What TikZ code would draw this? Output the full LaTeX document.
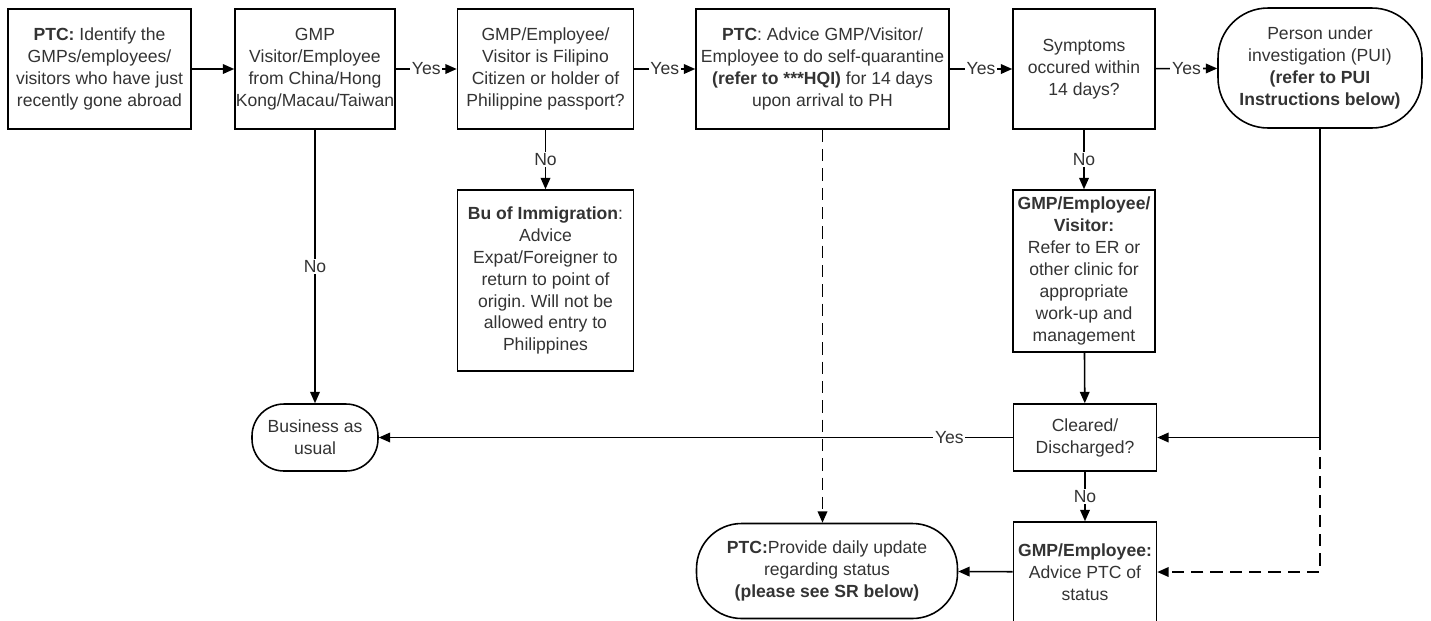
\documentclass[tikz,border=0pt]{standalone}
\usepackage{fontspec}
\setmainfont{Liberation Sans}
\frenchspacing
\usetikzlibrary{arrows.meta}
\tikzset{
  box/.style={draw, line width=0.9pt, align=center, inner sep=0pt, text=black!80,
    font=\fontsize{10}{12.5}\selectfont},
  term/.style={box, rounded corners=1cm},
  arr/.style={-{Triangle[length=6.5pt,width=5.5pt]}, line width=0.9pt},
  dsh/.style={arr, dash pattern=on 7pt off 4pt},
  lbl/.style={fill=white, inner sep=1pt, text=black!80, font=\fontsize{10}{12}\selectfont}
}
\begin{document}
\begin{tikzpicture}[x=0.02cm,y=-0.02cm]
        \useasboundingbox (0,0) rectangle (1431,620);
        % top row
        \node[box, minimum width=3.66cm, minimum height=2.4cm] (ptc) at (99.5,69) {\textbf{PTC:} Identify the\\GMPs/employees/\\visitors who have just\\recently gone abroad};
        \node[box, minimum width=3.2cm, minimum height=2.4cm] (gmp) at (315,69) {GMP\\Visitor/Employee\\from China/Hong\\Kong/Macau/Taiwan};
        \node[box, minimum width=3.52cm, minimum height=2.4cm] (fil) at (545.5,69) {GMP/Employee/\\Visitor is Filipino\\Citizen or holder of\\Philippine passport?};
        \node[box, minimum width=5.06cm, minimum height=2.4cm] (adv) at (822.5,69) {\textbf{PTC}: Advice GMP/Visitor/\\Employee to do self-quarantine\\\textbf{(refer to ***HQI)} for 14 days\\upon arrival to PH};
        \node[box, minimum width=2.84cm, minimum height=2.4cm] (sym) at (1084,69) {Symptoms\\occured within\\14 days?};
        \node[term, minimum width=4.08cm, minimum height=2.4cm] (pui) at (1320,68) {Person under\\investigation (PUI)\\\textbf{(refer to PUI}\\\textbf{Instructions below)}};
        % middle
        \node[box, minimum width=3.52cm, minimum height=3.62cm] (imm) at (545.5,280.5) {\textbf{Bu of Immigration}:\\Advice\\Expat/Foreigner to\\return to point of\\origin. Will not be\\allowed entry to\\Philippines};
        \node[box, minimum width=2.84cm, minimum height=3.24cm] (ref) at (1084,271) {\textbf{GMP/Employee/}\\\textbf{Visitor:}\\Refer to ER or\\other clinic for\\appropriate\\work-up and\\management};
        \node[box, minimum width=2.86cm, minimum height=1.34cm] (clr) at (1085,437.5) {Cleared/\\Discharged?};
        \node[term, rounded corners=0.64cm, minimum width=2.52cm, minimum height=1.34cm] (bau) at (315,437.5) {Business as\\usual};
        % bottom
        \node[term, rounded corners=0.9cm, minimum width=5.22cm, minimum height=1.9cm] (upd) at (827,571) {\textbf{PTC:}Provide daily update\\regarding status\\\textbf{(please see SR below)}};
        \node[box, minimum width=2.86cm, minimum height=2cm] (sta) at (1085,572) {\textbf{GMP/Employee:}\\Advice PTC of\\status};
        \coordinate (bend) at (pui.south |- clr.east);

        \draw[arr] (ptc) -- (gmp);
        \draw[arr] (gmp) -- node[lbl]{Yes} (fil);
        \draw[arr] (fil) -- node[lbl]{Yes} (adv);
        \draw[arr] (adv) -- node[lbl]{Yes} (sym);
        \draw[arr] (sym) -- node[lbl]{Yes} (pui);
        \draw[arr] (gmp) -- node[lbl]{No} (bau);
        \draw[arr] (fil) -- node[lbl]{No} (imm);
        \draw[arr] (sym) -- node[lbl]{No} (ref);
        \draw[arr] (ref) -- (clr);
        \draw[arr] (clr) -- node[lbl, pos=0.1]{Yes} (bau);
        \draw[arr] (clr) -- node[lbl]{No} (sta);
        \draw[arr] (sta) -- (upd);
        \draw[arr] (pui) |- (clr);
        \draw[dsh] (bend) |- (sta);
        \draw[dsh] (adv) -- (adv |- upd.north);
\end{tikzpicture}
\end{document}
